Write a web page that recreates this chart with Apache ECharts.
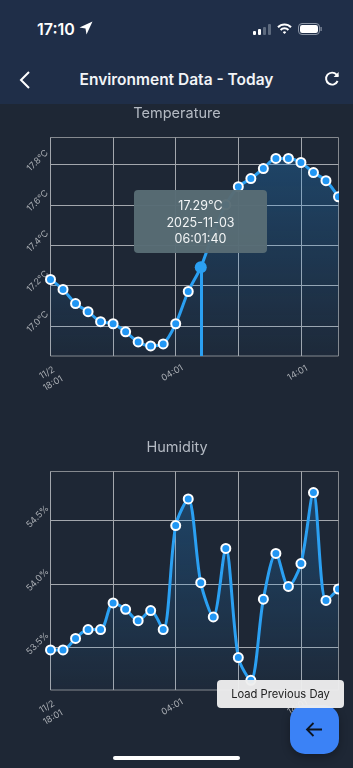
<!DOCTYPE html>
<html>
<head>
<meta charset="utf-8">
<title>Environment Data</title>
<script src="https://cdn.jsdelivr.net/npm/echarts@6/dist/echarts.min.js"></script>
<style>
  html, body { margin: 0; padding: 0; width: 353px; height: 768px; overflow: hidden; background: #1e2735; font-family: Inter, "Noto Sans", sans-serif; }
  #chart { position: absolute; left: 0; top: 0; width: 339px; height: 768px; }
  .header { position: absolute; left: 0; top: 0; width: 353px; height: 104px; background: #1f2e48; color: #fff; }
  .clock { position: absolute; left: 37px; top: 19px; font-size: 16px; font-weight: 600; }
  .title { position: absolute; left: 0; width: 353px; top: 70px; text-align: center; font-size: 15.5px; font-weight: 600; color: #f2f4f7; }
  .header svg { position: absolute; }
  .hint { position: absolute; left: 217px; top: 680px; width: 127px; height: 28px; line-height: 28px; background: rgba(238,238,238,.96); border-radius: 4px; color: #222; font-size: 11.2px; text-align: center; z-index: 3; }
  .fab { position: absolute; left: 290px; top: 705px; width: 49px; height: 49px; background: #3b82f6; border-radius: 15px; box-shadow: 0 3px 8px rgba(0,0,0,.3); z-index: 2; }
  .fab svg { position: absolute; left: 15px; top: 15px; }
  .home { position: absolute; left: 113px; top: 756px; width: 127px; height: 4px; background: #fff; border-radius: 2px; z-index: 2; }
</style>
</head>
<body>
<div id="chart"></div>

<div class="header">
  <div class="clock">17:10</div>
  <svg style="left:79px;top:21px" width="14" height="14" viewBox="0 0 14 14"><path d="M13.5 0.5 L0.5 6.5 L6.5 7.5 L7.5 13.5 Z" fill="#fff"/></svg>
  <svg style="left:253px;top:24px" width="18" height="11" viewBox="0 0 18 11">
    <rect x="0" y="7" width="3" height="4" rx="1" fill="#fff"/>
    <rect x="5" y="5" width="3" height="6" rx="1" fill="#fff"/>
    <rect x="10" y="3" width="3" height="8" rx="1" fill="#5d6a7e"/>
    <rect x="15" y="0" width="3" height="11" rx="1" fill="#5d6a7e"/>
  </svg>
  <svg style="left:277px;top:23px" width="15" height="12" viewBox="0 0 15 12" fill="none" stroke="#fff" stroke-width="2">
    <path d="M1 4.2 A9 9 0 0 1 14 4.2"/>
    <path d="M3.6 7 A5.4 5.4 0 0 1 11.4 7"/>
    <path d="M7.5 11 L5.8 9.2 A2.4 2.4 0 0 1 9.2 9.2 Z" fill="#fff" stroke="none"/>
  </svg>
  <svg style="left:298px;top:23px" width="24" height="12" viewBox="0 0 24 12">
    <rect x="0.5" y="0.5" width="21" height="11" rx="3.5" fill="none" stroke="#8b95a5"/>
    <rect x="2" y="2" width="18" height="8" rx="2.2" fill="#fff"/>
    <rect x="22.5" y="4" width="1.2" height="4" fill="#8b95a5"/>
  </svg>
  <svg style="left:18px;top:70px" width="14" height="20" viewBox="0 0 14 20" fill="none" stroke="#fff" stroke-width="2"><path d="M11 2 L3 10 L11 18"/></svg>
  <div class="title">Environment Data - Today</div>
  <svg style="left:324px;top:71px" width="16" height="16" viewBox="0 0 16 16" fill="none" stroke="#fff" stroke-width="1.9">
    <path d="M13.6 10 A6 6 0 1 1 12.6 3.6 L14 5"/>
    <path d="M14.6 1 V6 H9.6" fill="#fff" stroke="none"/>
  </svg>
</div>

<div class="fab">
  <svg width="19" height="19" viewBox="0 0 19 19" fill="none" stroke="#0d1420" stroke-width="1.8"><path d="M17 9.5 H2 M8.5 3 L2 9.5 L8.5 16"/></svg>
</div>
<div class="hint">Load Previous Day</div>
<div class="home"></div>

<script>
// hourly points, 11/2 18:01 -> 11/3 17:01
const timeLabels = ["11/2\n18:01", "19:01", "20:01", "21:01", "22:01", "23:01", "00:01", "01:01", "02:01", "03:01", "04:01", "05:01",
  "06:01", "07:01", "08:01", "09:01", "10:01", "11:01", "12:01", "13:01", "14:01", "15:01", "16:01", "17:01"];
const tempValues = [17.23, 17.18, 17.11, 17.07, 17.02, 17.01, 16.97, 16.92, 16.90, 16.91, 17.01, 17.17,
  17.29, 17.46, 17.60, 17.69, 17.73, 17.78, 17.83, 17.83, 17.81, 17.76, 17.72, 17.64];
const humidityValues = [53.48, 53.48, 53.57, 53.64, 53.64, 53.85, 53.80, 53.71, 53.79, 53.64, 54.46, 54.67,
  54.01, 53.74, 54.28, 53.42, 53.24, 53.88, 54.24, 53.98, 54.16, 54.72, 53.87, 53.96];
const tempTicks = [17.0, 17.2, 17.4, 17.6, 17.8];
const humidityTicks = [53.5, 54.0, 54.5];
const tempRange = [16.85, 17.934];
const humidityRange = [53.164, 54.886];
const activeIndex = 12;
const tipLines = ["17.29°C", "2025-11-03", "06:01:40"];

const fontName = "Inter";
const lineBlue = "#2ba0f2";
const dotBlue = "#2196f3";

function makeXAxis(gridIndex) {
  return {
    type: "category",
    gridIndex: gridIndex,
    data: timeLabels,
    boundaryGap: false,
    axisLine: { show: false },
    axisTick: { show: false },
    axisLabel: {
      interval: 9,
      rotate: 30,
      align: "center",
      verticalAlign: "top",
      margin: 8,
      padding: [0, 15, 0, 0],
      fontSize: 9,
      lineHeight: 12,
      fontFamily: fontName,
      color: "#a9adb3",
    },
    splitLine: { show: true, interval: 4, lineStyle: { color: "#a3a7ad", width: 1 } },
  };
}

function makeYAxis(gridIndex, range, ticks, unit) {
  return {
    type: "value",
    gridIndex: gridIndex,
    min: range[0],
    max: range[1],
    axisLine: { show: false },
    axisTick: { show: false, customValues: ticks },
    axisLabel: {
      customValues: ticks,
      rotate: 45,
      align: "center",
      verticalAlign: "bottom",
      margin: 9,
      lineHeight: 11,
      fontSize: 9,
      fontFamily: fontName,
      color: "#a9adb3",
      formatter: (v) => v.toFixed(1) + unit,
    },
    splitLine: { show: true, lineStyle: { color: "#a3a7ad", width: 1 } },
  };
}

function makeArea() {
  return {
    color: new echarts.graphic.LinearGradient(0, 0, 0, 1, [
      { offset: 0, color: "rgba(33,150,243,0.38)" },
      { offset: 1, color: "rgba(33,150,243,0.04)" },
    ]),
  };
}

const dotStyle = { color: dotBlue, borderColor: "#fff", borderWidth: 2 };

var myChart = echarts.init(document.getElementById("chart"));
myChart.setOption({
  animation: false,
  textStyle: { fontFamily: fontName },
  title: [
    { text: "Temperature", left: 172, top: 101, textAlign: "center", textStyle: { color: "#b4bac3", fontSize: 14.5, fontWeight: 400, fontFamily: fontName } },
    { text: "Humidity", left: 172, top: 435, textAlign: "center", textStyle: { color: "#b4bac3", fontSize: 14.5, fontWeight: 400, fontFamily: fontName } },
  ],
  grid: [
    { left: 50.5, top: 137.5, width: 288, height: 218.5, show: true, borderColor: "#85898f", borderWidth: 1, backgroundColor: "transparent" },
    { left: 50.5, top: 471.5, width: 288, height: 218.5, show: true, borderColor: "#85898f", borderWidth: 1, backgroundColor: "transparent" },
  ],
  xAxis: [makeXAxis(0), makeXAxis(1)],
  yAxis: [makeYAxis(0, tempRange, tempTicks, "°C"), makeYAxis(1, humidityRange, humidityTicks, "%")],
  tooltip: {
    trigger: "item",
    alwaysShowContent: true,
    transitionDuration: 0,
    position: [134, 190],
    padding: [8, 0, 4, 0],
    backgroundColor: "rgba(88,108,117,0.97)",
    borderWidth: 0,
    extraCssText: "width:133px;height:51px;box-sizing:content-box;border-radius:4px;box-shadow:none;text-align:center;",
    textStyle: { color: "#f2f4f5", fontSize: 12.5, fontFamily: fontName, lineHeight: 16.7 },
    formatter: () => tipLines.join("<br>"),
  },
  series: [
    {
      name: "Temperature",
      type: "line",
      xAxisIndex: 0,
      yAxisIndex: 0,
      smooth: 0.3,
      showAllSymbol: true,
      symbol: "circle",
      symbolSize: 9,
      lineStyle: { color: lineBlue, width: 3 },
      itemStyle: dotStyle,
      areaStyle: makeArea(),
      data: tempValues.map((v, i) =>
        i === activeIndex ? { value: v, symbolSize: 12, itemStyle: { color: lineBlue, borderWidth: 0 } } : v
      ),
      markLine: {
        silent: true,
        symbol: "none",
        label: { show: false },
        lineStyle: { color: lineBlue, width: 3, type: "solid" },
        data: [[{ xAxis: activeIndex, yAxis: tempValues[activeIndex] }, { xAxis: activeIndex, yAxis: tempRange[0] }]],
      },
    },
    {
      name: "Humidity",
      type: "line",
      xAxisIndex: 1,
      yAxisIndex: 1,
      smooth: 0.3,
      showAllSymbol: true,
      symbol: "circle",
      symbolSize: 9,
      lineStyle: { color: lineBlue, width: 3 },
      itemStyle: dotStyle,
      areaStyle: makeArea(),
      data: humidityValues,
    },
  ],
});
myChart.dispatchAction({ type: "showTip", seriesIndex: 0, dataIndex: activeIndex });
</script>
</body>
</html>
